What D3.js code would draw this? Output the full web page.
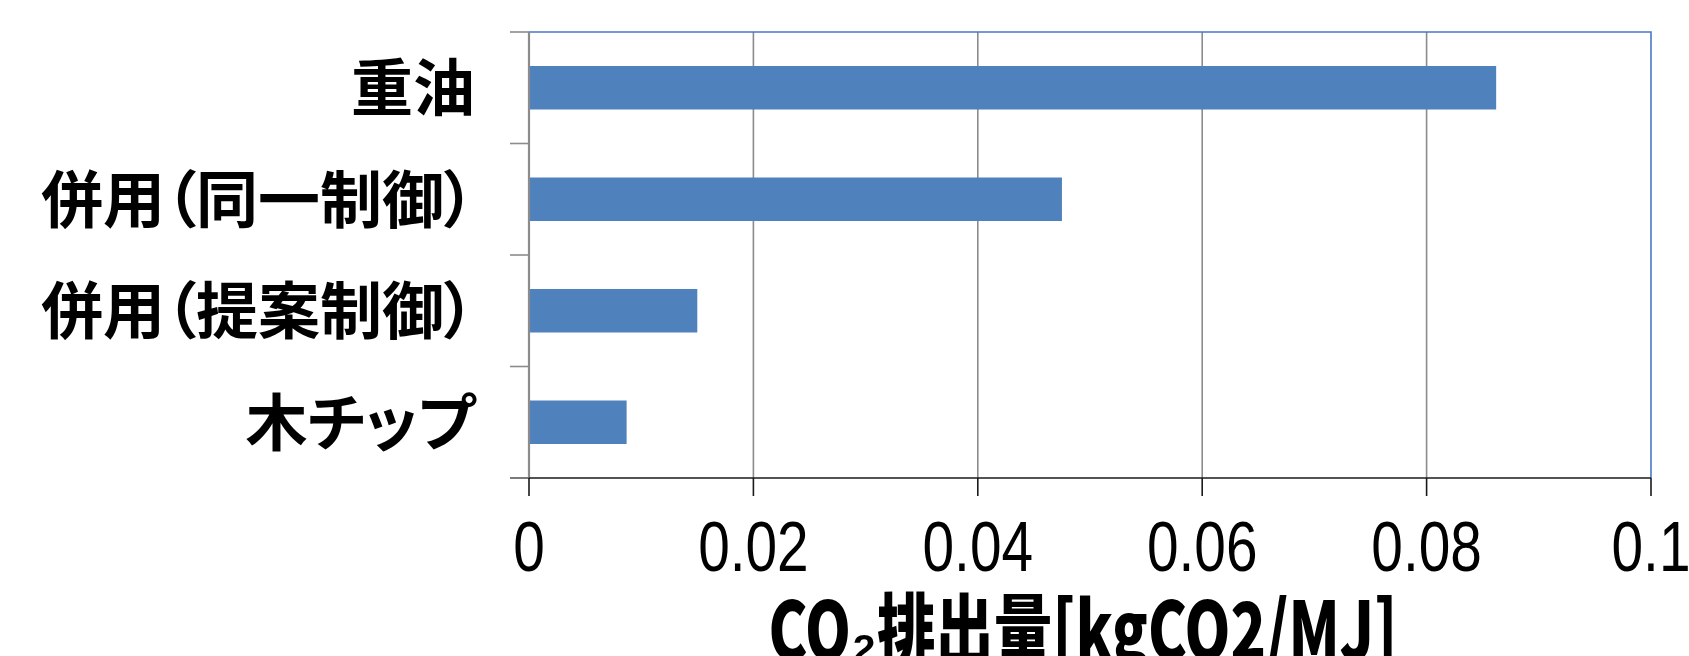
<!DOCTYPE html>
<html>
<head>
<meta charset="utf-8">
<script src="https://cdn.jsdelivr.net/npm/d3@7"></script>
<style>
  html, body { margin: 0; padding: 0; background: #ffffff; overflow: hidden; }
  svg { display: block; }
  .cat { font-feature-settings: "palt" 1; }
</style>
</head>
<body>
<svg id="chart" width="1689" height="656"></svg>
<script>
// Emission intensity per fuel case
const categories = ["重油", "併用（同一制御）", "併用（提案制御）", "木チップ"];
const values = [0.0862, 0.0475, 0.0150, 0.0087];
const xTicks = [0, 0.02, 0.04, 0.06, 0.08, 0.1];
const xTickLabels = ["0", "0.02", "0.04", "0.06", "0.08", "0.1"];
const xTitle = "CO₂排出量[kgCO2/MJ]";

const plot = { left: 529, right: 1651, top: 32, bottom: 478 };

const svg = d3.select("#chart");

const x = d3.scaleLinear().domain([0, 0.1]).range([plot.left, plot.right]);

// band per category (full division) and bar band inside it
const yCat = d3.scaleBand().domain(categories).range([plot.top, plot.bottom]).padding(0);
const yBar = d3.scaleBand().domain(categories).range([plot.top, plot.bottom])
  .paddingInner(0.61).paddingOuter(0.305);

// vertical gridlines
svg.append("g")
  .selectAll("line")
  .data(xTicks.filter(v => v > 0 && v < 0.1))
  .join("line")
  .attr("x1", d => x(d)).attr("x2", d => x(d))
  .attr("y1", plot.top).attr("y2", plot.bottom)
  .attr("stroke", "#8c8c8c").attr("stroke-width", 1.6);

// plot frame top / right
svg.append("path")
  .attr("d", `M${plot.left},${plot.top}H${plot.right}V${plot.bottom}`)
  .attr("fill", "none").attr("stroke", "#4a78c8").attr("stroke-width", 1.6);

// bars
svg.append("g")
  .selectAll("rect")
  .data(categories.map((c, i) => ({ c, v: values[i] })))
  .join("rect")
  .attr("x", x(0))
  .attr("y", d => yBar(d.c))
  .attr("width", d => x(d.v) - x(0))
  .attr("height", yBar.bandwidth())
  .attr("fill", "#4f81bd");

// category axis (left): line and division ticks
const catBounds = categories.map(c => yCat(c)).concat([plot.bottom]);
const gy = svg.append("g");
gy.append("line")
  .attr("x1", plot.left).attr("x2", plot.left)
  .attr("y1", plot.top).attr("y2", plot.bottom)
  .attr("stroke", "#8c8c8c").attr("stroke-width", 2.2);
gy.selectAll("line.tk")
  .data(catBounds)
  .join("line")
  .attr("class", "tk")
  .attr("x1", plot.left - 19).attr("x2", plot.left)
  .attr("y1", d => d).attr("y2", d => d)
  .attr("stroke", "#8c8c8c").attr("stroke-width", 1.6);

// category labels
gy.selectAll("text")
  .data(categories)
  .join("text")
  .attr("class", "cat")
  .attr("x", 475)
  .attr("y", d => yCat(d) + yCat.bandwidth() / 2)
  .attr("dy", "0.38em")
  .attr("text-anchor", "end")
  .attr("font-family", "'Noto Sans CJK JP', sans-serif")
  .attr("font-weight", 700)
  .attr("font-size", 62)
  .attr("fill", "#000")
  .text(d => d);

// value axis (bottom)
const gx = svg.append("g");
gx.append("line")
  .attr("x1", plot.left - 19).attr("x2", plot.right)
  .attr("y1", plot.bottom).attr("y2", plot.bottom)
  .attr("stroke", "#1a1a1a").attr("stroke-width", 1.4);
gx.append("line")
  .attr("x1", plot.left - 19).attr("x2", plot.left)
  .attr("y1", plot.bottom).attr("y2", plot.bottom)
  .attr("stroke", "#8c8c8c").attr("stroke-width", 1.6);
gx.selectAll("line.tk")
  .data(xTicks)
  .join("line")
  .attr("class", "tk")
  .attr("x1", d => x(d)).attr("x2", d => x(d))
  .attr("y1", plot.bottom).attr("y2", plot.bottom + 18)
  .attr("stroke", "#1a1a1a").attr("stroke-width", 1.6);

// tick labels, set in a condensed width
const tickLabels = gx.selectAll("text.lbl")
  .data(xTicks)
  .join("text")
  .attr("class", "lbl")
  .attr("x", d => x(d))
  .attr("y", 571)
  .attr("text-anchor", "middle")
  .attr("font-family", "'Liberation Sans', Arial, sans-serif")
  .attr("font-size", 71)
  .attr("fill", "#000")
  .text((d, i) => xTickLabels[i]);
tickLabels.each(function () {
  const w = this.getComputedTextLength();
  d3.select(this).attr("textLength", w * 0.8).attr("lengthAdjust", "spacingAndGlyphs");
});

// axis title, condensed to its set width
svg.append("text")
  .attr("x", (plot.left + plot.right) / 2 - 7)
  .attr("y", 660)
  .attr("text-anchor", "middle")
  .attr("font-family", "'Noto Sans CJK JP', sans-serif")
  .attr("font-weight", 900)
  .attr("font-size", 80)
  .attr("fill", "#000")
  .attr("textLength", 629)
  .attr("lengthAdjust", "spacingAndGlyphs")
  .text(xTitle);
</script>
</body>
</html>
